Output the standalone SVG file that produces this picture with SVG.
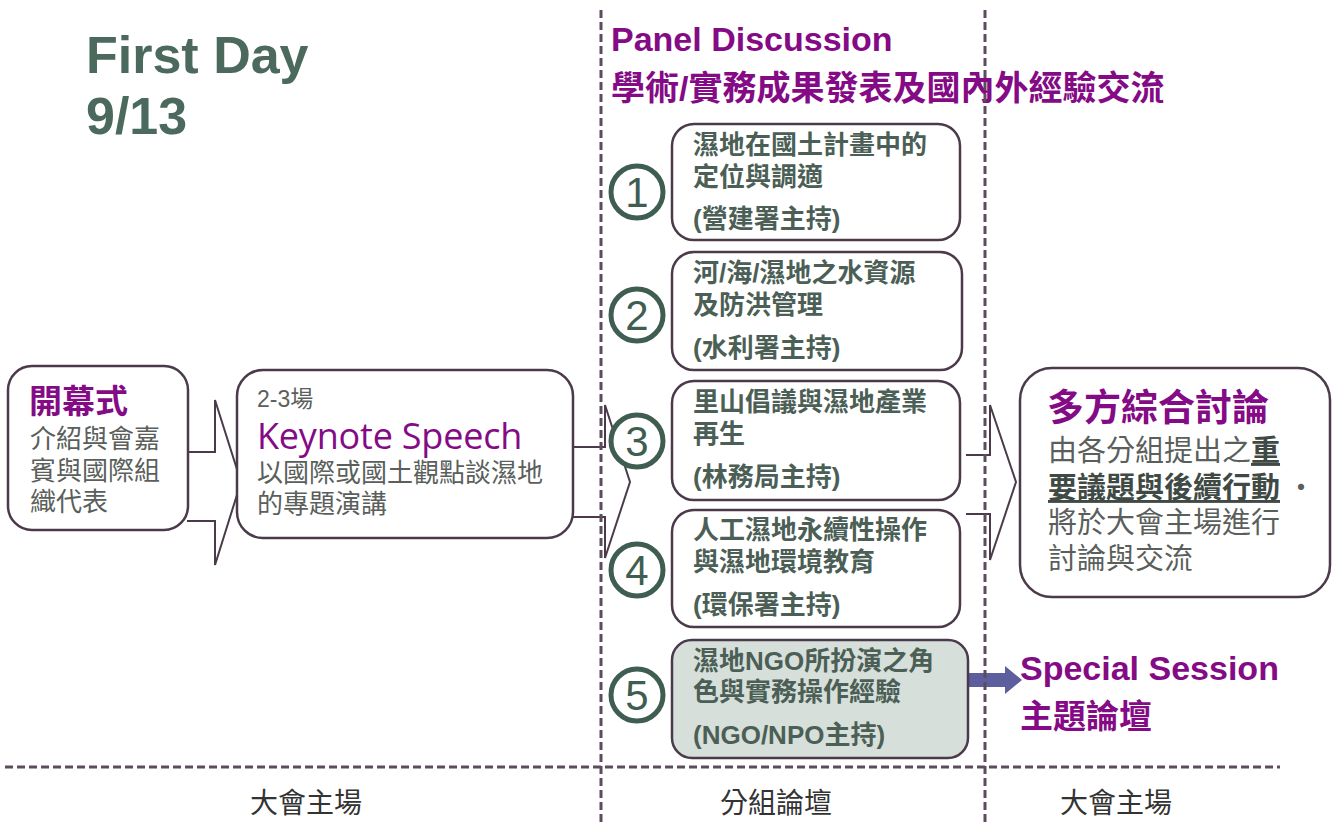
<svg xmlns="http://www.w3.org/2000/svg" width="1335" height="823" viewBox="0 0 1335 823">
<style>
.bg{fill:#fff}
.dash{stroke:#5c4d5c;stroke-width:3;stroke-dasharray:8 4;fill:none}
.box{fill:#fff;stroke:#4a3a4a;stroke-width:2.5}
.box5{fill:#d6dfda;stroke:#4a3a4a;stroke-width:2.5}
.blk{fill:#fff;stroke:#4a3a4a;stroke-width:2}
.circ{fill:#fff;stroke:#3f5e51;stroke-width:5}
.num{font-family:"Liberation Sans",Arial,sans-serif;font-size:42px;fill:#3f5e51;text-anchor:middle}
.title{font-family:"Liberation Sans",Arial,sans-serif;font-weight:bold;font-size:52px;fill:#4b6a5d}
.pur{font-family:"Liberation Sans","Noto Sans CJK TC",sans-serif;font-weight:bold;fill:#850a85}
.gray{font-family:"Noto Sans CJK TC",sans-serif;font-size:26px;fill:#5a5f5c}
.small{font-family:"Liberation Sans","Noto Sans CJK TC",sans-serif;font-size:23px;fill:#5a5f5c}
.big{font-family:"Noto Sans CJK TC",sans-serif;font-size:29px;fill:#5a5f5c}
.em{font-weight:bold;fill:#3f4a45;text-decoration:underline}
.pt{font-family:"Liberation Sans","Noto Sans CJK TC",sans-serif;font-weight:bold;font-size:26px;fill:#4c5f56}
.foot{font-family:"Noto Sans CJK TC",sans-serif;font-size:28px;fill:#333}
</style>
<rect class="bg" x="0" y="0" width="1335" height="823"/>

<g id="title">
<text class="title" x="86" y="73">First Day</text>
<text class="title" x="86" y="134">9/13</text>
</g>

<g id="panel-title">
<text class="pur" x="611" y="51" font-size="34">Panel Discussion</text>
<text class="pur" x="611" y="100" font-size="34">學術/實務成果發表及國內外經驗交流</text>
</g>

<g id="connectors">
<path class="blk" d="M187,452 H215 V400 L241,482 L215,565 V521 H187"/>
<path class="blk" d="M572,447 H605 V405 L630,482 L605,558 V517 H572"/>
<path class="blk" d="M966,455 H990 V405 L1016,482 L990,560 V514 H966"/>
<path d="M962,673 H1005 V666 L1022,680 L1005,694 V687 H962 Z" fill="#5c5e9e"/>
</g>

<g id="dividers">
<line class="dash" x1="601" y1="10" x2="601" y2="823"/>
<line class="dash" x1="985" y1="10" x2="985" y2="823"/>
<line class="dash" x1="5" y1="767" x2="1280" y2="767"/>
</g>

<g id="opening">
<rect class="box" x="8" y="366" width="180" height="164" rx="24"/>
<text class="pur" x="29" y="413" font-size="33">開幕式</text>
<text class="gray" x="30" y="448">介紹與會嘉</text>
<text class="gray" x="30" y="480">賓與國際組</text>
<text class="gray" x="30" y="511">織代表</text>
</g>

<g id="keynote">
<rect class="box" x="237" y="370" width="336" height="168" rx="26"/>
<text class="small" x="257" y="407">2-3場</text>
<text x="257" y="449" font-family="Open Sans,Lato,sans-serif" font-size="36" fill="#850a85" letter-spacing="-0.2">Keynote Speech</text>
<text class="gray" x="257" y="482">以國際或國土觀點談濕地</text>
<text class="gray" x="257" y="513">的專題演講</text>
</g>

<g id="p1">
<rect class="box" x="672" y="124" width="288" height="116" rx="22"/>
<circle class="circ" cx="637" cy="192" r="26"/>
<text class="num" x="637" y="207">1</text>
<text class="pt" x="693" y="154">濕地在國土計畫中的</text>
<text class="pt" x="693" y="186">定位與調適</text>
<text class="pt" x="693" y="228">(營建署主持)</text>
</g>

<g id="p2">
<rect class="box" x="672" y="252" width="290" height="118" rx="22"/>
<circle class="circ" cx="637" cy="315" r="26"/>
<text class="num" x="637" y="330">2</text>
<text class="pt" x="693" y="282">河/海/濕地之水資源</text>
<text class="pt" x="693" y="314">及防洪管理</text>
<text class="pt" x="693" y="357">(水利署主持)</text>
</g>

<g id="p3">
<rect class="box" x="672" y="381" width="288" height="119" rx="22"/>
<circle class="circ" cx="637" cy="441" r="26"/>
<text class="num" x="637" y="456">3</text>
<text class="pt" x="693" y="411">里山倡議與濕地產業</text>
<text class="pt" x="693" y="443">再生</text>
<text class="pt" x="693" y="486">(林務局主持)</text>
</g>

<g id="p4">
<rect class="box" x="672" y="510" width="288" height="117" rx="22"/>
<circle class="circ" cx="637" cy="570" r="26"/>
<text class="num" x="637" y="585">4</text>
<text class="pt" x="693" y="539">人工濕地永續性操作</text>
<text class="pt" x="693" y="571">與濕地環境教育</text>
<text class="pt" x="693" y="614">(環保署主持)</text>
</g>

<g id="p5">
<rect class="box5" x="672" y="640" width="296" height="118" rx="20"/>
<circle class="circ" cx="637" cy="695" r="26"/>
<text class="num" x="637" y="710">5</text>
<text class="pt" x="693" y="670">濕地NGO所扮演之角</text>
<text class="pt" x="693" y="701">色與實務操作經驗</text>
<text class="pt" x="693" y="744">(NGO/NPO主持)</text>
</g>

<g id="summary">
<rect class="box" x="1020" y="368" width="310" height="229" rx="32"/>
<text class="pur" x="1047" y="421" font-size="37">多方綜合討論</text>
<text class="big" x="1048" y="461">由各分組提出之<tspan class="em">重</tspan></text>
<text class="big" x="1048" y="498"><tspan class="em">要議題與後續行動</tspan> ·</text>
<text class="big" x="1048" y="533">將於大會主場進行</text>
<text class="big" x="1048" y="569">討論與交流</text>
</g>

<g id="special">
<text class="pur" x="1020" y="680" font-size="34">Special Session</text>
<text class="pur" x="1020" y="728" font-size="33">主題論壇</text>
</g>

<g id="footer">
<text class="foot" x="250" y="813">大會主場</text>
<text class="foot" x="720" y="813">分組論壇</text>
<text class="foot" x="1060" y="813">大會主場</text>
</g>
</svg>
